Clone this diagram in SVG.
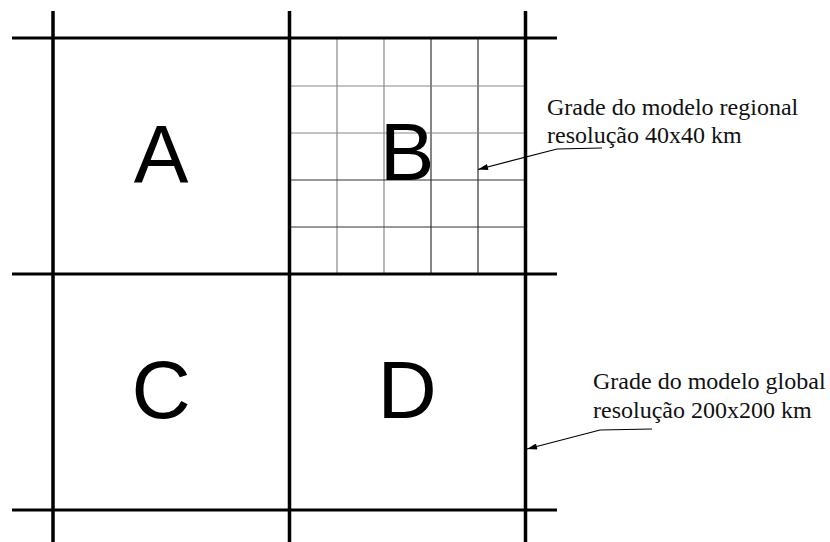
<svg xmlns="http://www.w3.org/2000/svg" width="830" height="542" viewBox="0 0 830 542">
<style>
.v{stroke:#000;stroke-width:3.5;fill:none}
.h{stroke:#000;stroke-width:3;fill:none}
.gl{stroke:#888;stroke-width:1.2}
.gd{stroke:#333;stroke-width:1.2}
.big{font-family:"Liberation Sans",Arial,sans-serif;font-size:82px;fill:#000;text-anchor:middle}
.lbl{font-family:"Liberation Serif","Times New Roman",serif;font-size:24px;fill:#111}
.ldr{stroke:#000;stroke-width:1.2;fill:none}
</style>
<defs>
<marker id="ah" viewBox="0 0 10 6" refX="10" refY="3" markerWidth="14" markerHeight="6" markerUnits="userSpaceOnUse" orient="auto">
<path d="M0,0 L10,3 L0,6 Z" fill="#000"/>
</marker>
</defs>
<rect width="830" height="542" fill="#fff"/>
<g id="fine-grid">
<line class="gl" x1="337" y1="38" x2="337" y2="274"/>
<line class="gl" x1="384" y1="38" x2="384" y2="274"/>
<line class="gd" x1="431" y1="38" x2="431" y2="274"/>
<line class="gd" x1="478" y1="38" x2="478" y2="274"/>
<line class="gl" x1="290" y1="86" x2="525" y2="86"/>
<line class="gl" x1="290" y1="133" x2="525" y2="133"/>
<line class="gd" x1="290" y1="180" x2="525" y2="180"/>
<line class="gd" x1="290" y1="227" x2="525" y2="227"/>
</g>
<g id="coarse-grid">
<line class="v" x1="53" y1="11" x2="53" y2="542"/>
<line class="v" x1="289.5" y1="11" x2="289.5" y2="542"/>
<line class="v" x1="525.5" y1="11" x2="525.5" y2="542"/>
<line class="h" x1="12" y1="38" x2="557" y2="38"/>
<line class="h" x1="12" y1="274" x2="557" y2="274"/>
<line class="h" x1="12" y1="510" x2="557" y2="510"/>
</g>
<g id="cell-A"><text class="big" x="161" y="182">A</text></g>
<g id="cell-B"><text class="big" x="407" y="180">B</text></g>
<g id="cell-C"><text class="big" x="161" y="418">C</text></g>
<g id="cell-D"><text class="big" x="407" y="418">D</text></g>
<g id="label-regional">
<text class="lbl" x="547" y="115">Grade do modelo regional</text>
<text class="lbl" x="547" y="143">resolução 40x40 km</text>
</g>
<g id="label-global">
<text class="lbl" x="593" y="389">Grade do modelo global</text>
<text class="lbl" x="593" y="418">resolução 200x200 km</text>
</g>
<g id="connectors">
<polyline class="ldr" points="602,148 557,149 478,169.5" marker-end="url(#ah)"/>
<polyline class="ldr" points="652,429 600,430 527,449" marker-end="url(#ah)"/>
</g>
</svg>
